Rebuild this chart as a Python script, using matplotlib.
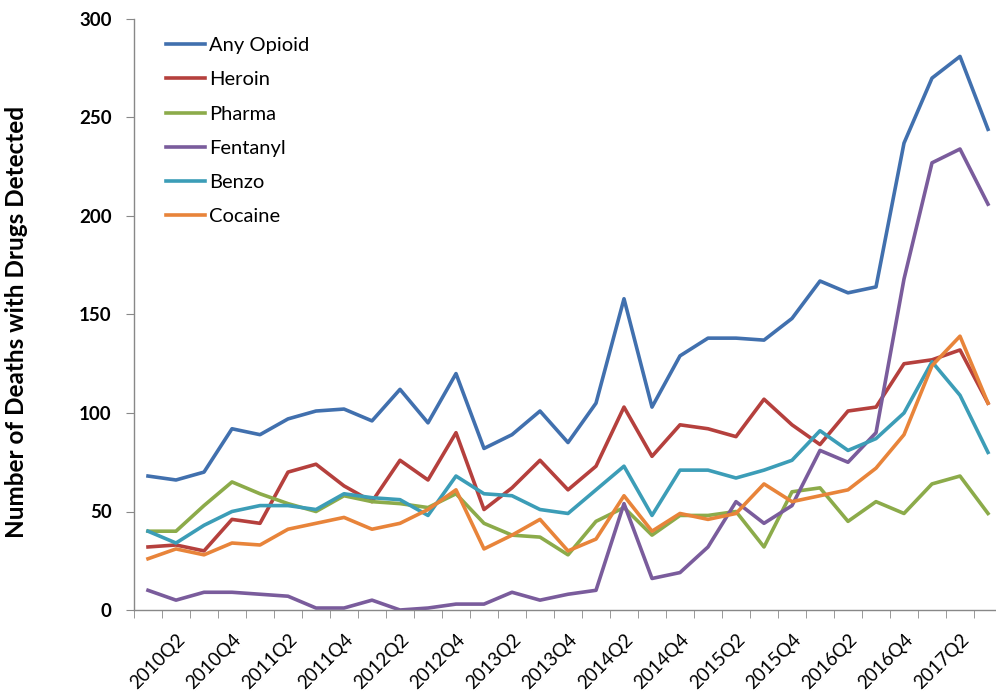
import numpy as np
import matplotlib.pyplot as plt

# quarters 2010Q1 .. 2017Q3
quarters = ['%dQ%d' % (y, q) for y in range(2010, 2018) for q in range(1, 5)][:31]

any_opioid = [68, 66, 70, 92, 89, 97, 101, 102, 96, 112, 95, 120, 82, 89, 101, 85,
              105, 158, 103, 129, 138, 138, 137, 148, 167, 161, 164, 237, 270, 281, 244]
heroin = [32, 33, 30, 46, 44, 70, 74, 63, 55, 76, 66, 90, 51, 62, 76, 61,
          73, 103, 78, 94, 92, 88, 107, 94, 84, 101, 103, 125, 127, 132, 105]
pharma = [40, 40, 53, 65, 59, 54, 50, 58, 55, 54, 52, 59, 44, 38, 37, 28,
          45, 52, 38, 48, 48, 50, 32, 60, 62, 45, 55, 49, 64, 68, 49]
fentanyl = [10, 5, 9, 9, 8, 7, 1, 1, 5, 0, 1, 3, 3, 9, 5, 8,
            10, 54, 16, 19, 32, 55, 44, 53, 81, 75, 90, 168, 227, 234, 206]
benzo = [40, 34, 43, 50, 53, 53, 51, 59, 57, 56, 48, 68, 59, 58, 51, 49,
         61, 73, 48, 71, 71, 67, 71, 76, 91, 81, 87, 100, 126, 109, 80]
cocaine = [26, 31, 28, 34, 33, 41, 44, 47, 41, 44, 51, 61, 31, 38, 46, 30,
           36, 58, 40, 49, 46, 49, 64, 55, 58, 61, 72, 89, 124, 139, 105]

series = [('Any Opioid', any_opioid, '#4170AE'),
          ('Heroin', heroin, '#B5403D'),
          ('Pharma', pharma, '#8CAB4A'),
          ('Fentanyl', fentanyl, '#7A5C9C'),
          ('Benzo', benzo, '#3C9DB7'),
          ('Cocaine', cocaine, '#E8843A')]

fig = plt.figure(figsize=(9.96, 6.96), dpi=100)
ax = fig.add_axes([134 / 996, 1 - 610 / 696, 868 / 996, 591 / 696])

x = np.arange(len(quarters))
for name, vals, col in series:
    ax.plot(x, vals, color=col, lw=2.6, label=name, solid_joinstyle='round')

ax.set_xlim(-0.5, len(quarters) - 0.5)
ax.set_ylim(0, 300)
ax.set_yticks(range(0, 301, 50))
ax.set_xticks(x[1::2])
ax.set_xticklabels(quarters[1::2], rotation=45, ha='right', rotation_mode='anchor',
                   fontsize=13.5, family='Lato')
ax.set_xticks(np.arange(-0.5, len(quarters), 1), minor=True)
for lab in ax.get_yticklabels():
    lab.set_fontweight('bold')
    lab.set_fontsize(13.5)
    lab.set_family('Lato')

ax.tick_params(axis='x', which='major', length=0, pad=15)
ax.tick_params(axis='x', which='minor', length=6, color='#888888', direction='out')
ax.tick_params(axis='y', length=6, color='#888888', direction='out', pad=10)

for s in ['top', 'right']:
    ax.spines[s].set_visible(False)
for s in ['left', 'bottom']:
    ax.spines[s].set_color('#888888')
    ax.spines[s].set_linewidth(1)

ax.set_ylabel('Number of Deaths with Drugs Detected', fontsize=17.5, fontweight='bold',
              family='Lato')
ax.yaxis.set_label_coords(-0.122, 0.487)

leg = ax.legend(loc='upper left', bbox_to_anchor=(0.016, 1.0), frameon=False,
                prop={'family': 'Lato', 'size': 14.5}, handlelength=1.95,
                handletextpad=0.2, labelspacing=0.85)

fig.savefig('out.png', dpi=100)
